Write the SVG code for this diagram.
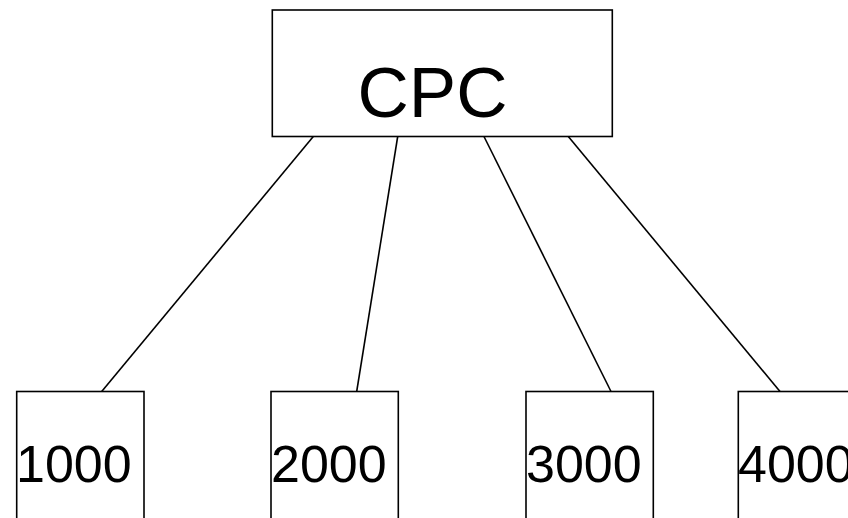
<svg xmlns="http://www.w3.org/2000/svg" width="848" height="518" viewBox="0 0 848 518">
<style>
.box{fill:#fff;stroke:#000;stroke-width:1.6}
.edge{stroke:#000;stroke-width:1.6;fill:none}
.t{font-family:"Liberation Sans",Arial,sans-serif;fill:#000}
</style>
<rect width="848" height="518" fill="#fff"/>
<g id="connectors">
<line class="edge" x1="313.3" y1="136.5" x2="101.7" y2="391.5"/>
<line class="edge" x1="397.7" y1="136.5" x2="356.7" y2="391.5"/>
<line class="edge" x1="484" y1="136.5" x2="611" y2="391.5"/>
<line class="edge" x1="568.3" y1="136.5" x2="780" y2="391.5"/>
</g>
<g id="cpc">
<rect class="box" x="272.3" y="10" width="340" height="126.5"/>
<text class="t" x="357.5" y="117" font-size="71">CPC</text>
</g>
<g id="n1000">
<rect class="box" x="16.7" y="391.5" width="127.3" height="140"/>
<text class="t" x="16" y="481.7" font-size="52">1000</text>
</g>
<g id="n2000">
<rect class="box" x="271" y="391.5" width="127.3" height="140"/>
<text class="t" x="271" y="481.7" font-size="52">2000</text>
</g>
<g id="n3000">
<rect class="box" x="526" y="391.5" width="127.3" height="140"/>
<text class="t" x="526" y="481.7" font-size="52">3000</text>
</g>
<g id="n4000">
<rect class="box" x="738.3" y="391.5" width="127.3" height="140"/>
<text class="t" x="738" y="481.7" font-size="52">4000</text>
</g>
</svg>
